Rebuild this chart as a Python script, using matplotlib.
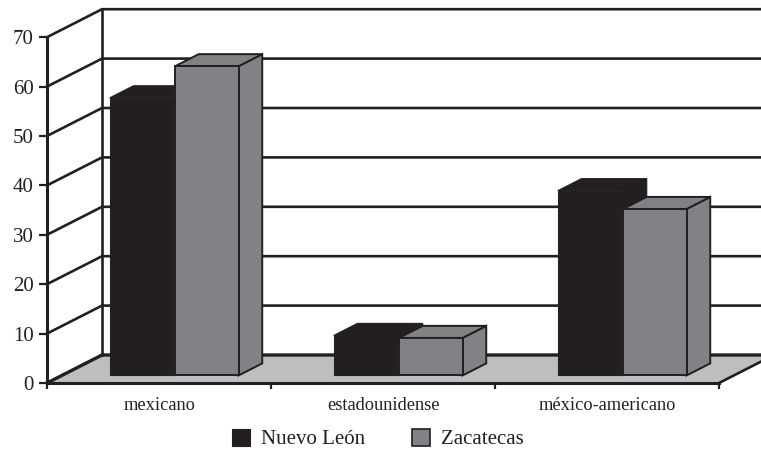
import matplotlib
matplotlib.use("Agg")
import matplotlib.pyplot as plt
from matplotlib.patches import Polygon, Patch

plt.rcParams['font.family'] = ['Liberation Serif', 'DejaVu Serif']

categories = ["mexicano", "estadounidense", "méxico-americano"]
series_names = ["Nuevo León", "Zacatecas"]
nuevo_leon = [56.2, 8.1, 37.4]
zacatecas = [62.6, 7.6, 33.7]
y_ticks = [0, 10, 20, 30, 40, 50, 60, 70]

INK = "#231f20"
GREY = "#808285"
FLOOR = "#bcbec0"

W, H = 761, 453
# pixels per category and per value unit, origin of the chart
PX_X, PX_Y = 224.0, 4.94
X0, Y0 = 47.0, 383.0
# how far the back wall is shifted from the front plane
DEPTH_X, DEPTH_Y = 55.0 / PX_X, 28.0 / PX_Y


def proj(x, v, d=0.0):
    return x + d * DEPTH_X, v + d * DEPTH_Y


fig = plt.figure(figsize=(W / 100, H / 100), dpi=100)
ax = fig.add_axes([0, 0, 1, 1])
ax.set_xlim(-X0 / PX_X, (W - X0) / PX_X)
ax.set_ylim((Y0 - H) / PX_Y, Y0 / PX_Y)

n = len(categories)
top = y_ticks[-1]
lw = 1.9

# floor
ax.add_patch(Polygon([proj(0, 0), proj(n, 0), proj(n, 0, 1), proj(0, 0, 1)],
                     closed=True, fc=FLOOR, ec="none", zorder=1))

# gridlines on the back and side walls
for v in y_ticks:
    x1, y1 = proj(0, v)
    x2, y2 = proj(0, v, 1)
    x3, y3 = proj(n, v, 1)
    if v == 0:
        ax.plot([x1, x2, x3], [y1, y2, y3], color=INK, lw=lw + 0.5, zorder=2, solid_joinstyle="miter")
    else:
        ax.plot([x1, x2, x3], [y1, y2, y3], color=INK, lw=lw, zorder=2, solid_joinstyle="miter")
x1, y1 = proj(0, 0, 1)
x2, y2 = proj(0, top, 1)
ax.plot([x1, x2], [y1, y2], color=INK, lw=lw, zorder=2)

# right edge of the floor
x1, y1 = proj(n, 0)
x2, y2 = proj(n, 0, 1)
ax.plot([x1, x2], [y1, y2], color=INK, lw=lw, zorder=2)

BAR_LEFT = 0.214
NL_W = 0.2915
ZAC_W = 0.2835
D0, D1 = 0.27, 0.70


def bar3d(x, w, v, face, edge, elw, z):
    front = [proj(x, 0, D0), proj(x + w, 0, D0), proj(x + w, v, D0), proj(x, v, D0)]
    tp = [proj(x, v, D0), proj(x + w, v, D0), proj(x + w, v, D1), proj(x, v, D1)]
    side = [proj(x + w, 0, D0), proj(x + w, 0, D1), proj(x + w, v, D1), proj(x + w, v, D0)]
    for pts in (side, tp, front):
        ax.add_patch(Polygon(pts, closed=True, fc=face, ec=edge, lw=elw, zorder=z, joinstyle="miter"))


for i in range(n):
    bar3d(i + BAR_LEFT, NL_W, nuevo_leon[i], INK, INK, 0.8, 3 + i * 0.1)
    bar3d(i + BAR_LEFT + NL_W, ZAC_W, zacatecas[i], GREY, INK, 1.4, 3.05 + i * 0.1)

# axes
for name in ("top", "right"):
    ax.spines[name].set_visible(False)
ax.spines["left"].set_position(("data", 0))
ax.spines["bottom"].set_position(("data", 0))
ax.spines["left"].set_bounds(0, top)
ax.spines["bottom"].set_bounds(0, n)
for name in ("left", "bottom"):
    ax.spines[name].set_color(INK)
    ax.spines[name].set_linewidth(lw + 0.3)

ax.set_yticks(y_ticks)
ax.set_xticks(range(n + 1))
ax.set_xticklabels([])
ax.set_xticks([i + 0.5 for i in range(n)], minor=True)
ax.set_xticklabels(categories, minor=True)
ax.tick_params(axis="y", length=5.5, width=1.6, color=INK, labelcolor=INK, labelsize=15, pad=4)
ax.tick_params(axis="x", which="major", length=4, width=1.6, color=INK)
ax.tick_params(axis="x", which="minor", length=0, labelcolor=INK, labelsize=13.2, pad=10)

handles = [Patch(fc=INK, ec=INK, lw=0.8), Patch(fc=GREY, ec=INK, lw=1.2)]
ax.legend(handles, series_names, ncol=2, frameon=False, fontsize=15, labelcolor=INK,
          loc="center", bbox_to_anchor=(378 / W, 1 - 439 / H), bbox_transform=fig.transFigure,
          handlelength=0.87, handleheight=0.87, handletextpad=0.55, columnspacing=2.23,
          borderpad=0, borderaxespad=0)

fig.savefig("out.png", dpi=100, facecolor="white")
